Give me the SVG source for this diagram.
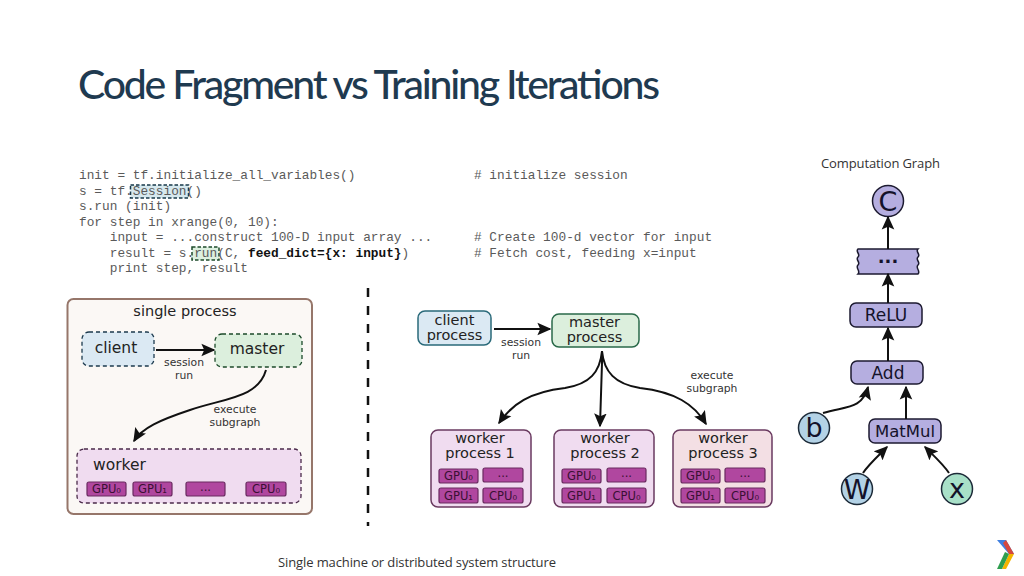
<svg xmlns="http://www.w3.org/2000/svg" width="1024" height="576" viewBox="0 0 1024 576">
<style>
text{font-family:"DejaVu Sans",sans-serif;fill:#222}
.code{font-family:"Liberation Mono",monospace;font-size:12.8px;fill:#5a5a5a;white-space:pre}
.cal{font-family:"Open Sans",sans-serif;font-size:13px;fill:#333}
.m{text-anchor:middle}
.lg{font-size:15.5px}
.sm{font-size:10.800px;fill:#333}
.chip{fill:#b0479f;stroke:#6a2a60;stroke-width:1.2}
.chipt{font-size:11.500px;fill:#3a1034;text-anchor:middle}
.wk{fill:#f0dcf0;stroke:#6a3a60;stroke-width:1.5}
.op{fill:#b5aee0;stroke:#1c1a30;stroke-width:1.5}
.ot{font-size:18px;fill:#14122a;text-anchor:middle}
.big{font-size:27px}
.blue{fill:#b3d2e6;stroke:#1c2a38;stroke-width:1.5}
.cn{fill:none;stroke:#111;stroke-width:2;marker-end:url(#ah)}
</style>
<defs>
<marker id="ah" viewBox="0 0 10 10" refX="9" refY="5" markerWidth="7" markerHeight="7" orient="auto" markerUnits="strokeWidth"><path d="M0 0.500L10 5L0 9.500L2 5Z" fill="#111"/></marker>
</defs>
<rect width="1024" height="576" fill="#fff"/>
<text x="78" y="99" textLength="582" lengthAdjust="spacing" style="font-family:Lato,sans-serif;font-size:41px;font-weight:500;fill:#1f3a50">Code Fragment vs Training Iterations</text>

<g id="code">
<rect x="130.500" y="185" width="58" height="13" fill="#d6e8ee" stroke="#17384a" stroke-width="1.500" stroke-dasharray="3.500 2"/>
<rect x="192" y="247" width="27" height="13" fill="#dcefdf" stroke="#1c4a2a" stroke-width="1.500" stroke-dasharray="3.500 2"/>
<text class="code" x="79" y="179">init = tf.initialize_all_variables()</text>
<text class="code" x="79" y="195">s = tf.Session()</text>
<text class="code" x="79" y="210">s.run (init)</text>
<text class="code" x="79" y="226">for step in xrange(0, 10):</text>
<text class="code" x="79" y="241">    input = ...construct 100-D input array ...</text>
<text class="code" x="79" y="257">    result = s.run(C, <tspan font-weight="bold" fill="#111">feed_dict={x: input}</tspan>)</text>
<text class="code" x="79" y="272">    print step, result</text>
<text class="code" x="474" y="179"># initialize session</text>
<text class="code" x="474" y="241"># Create 100-d vector for input</text>
<text class="code" x="474" y="257"># Fetch cost, feeding x=input</text>
</g>

<g id="single-process">
<rect x="67.500" y="299" width="244.500" height="215" rx="6" fill="#fbf8f5" stroke="#96766a" stroke-width="2"/>
<text class="m" x="185" y="316" font-size="14.500">single process</text>
</g>
<g id="client-a">
<rect x="82" y="332" width="72" height="34" rx="7" fill="#dbe9f3" stroke="#1c3a4e" stroke-width="1.300" stroke-dasharray="4 3"/>
<text class="m lg" x="116" y="353">client</text>
</g>
<g id="master-a">
<rect x="215" y="334" width="87" height="33" rx="7" fill="#dcefdd" stroke="#1c4a2a" stroke-width="1.300" stroke-dasharray="4 3"/>
<text class="m lg" x="257" y="354">master</text>
</g>
<g id="worker-a">
<rect x="77" y="449" width="224" height="54" rx="7" fill="#f0dcf0" stroke="#4a2a4a" stroke-width="1.300" stroke-dasharray="4 3"/>
<text class="lg" x="93" y="470">worker</text>
<rect class="chip" x="87" y="482" width="39" height="14" rx="2"/><text class="chipt" x="106.500" y="493">GPU₀</text>
<rect class="chip" x="133" y="482" width="39" height="14" rx="2"/><text class="chipt" x="152.500" y="493">GPU₁</text>
<rect class="chip" x="186" y="482" width="39" height="14" rx="2"/><text class="chipt" x="205.500" y="491">...</text>
<rect class="chip" x="246" y="482" width="40" height="14" rx="2"/><text class="chipt" x="266" y="493">CPU₀</text>
</g>

<g id="divider"><line x1="368" y1="288" x2="368" y2="526" stroke="#111" stroke-width="2.500" stroke-dasharray="9 9"/></g>

<g id="client-b">
<rect x="418" y="311" width="73" height="34" rx="7" fill="#dbe9f3" stroke="#2a6a7a" stroke-width="1.500"/>
<text class="m" x="454.500" y="325" font-size="14.500">client</text>
<text class="m" x="454.500" y="340" font-size="14.500">process</text>
</g>
<g id="master-b">
<rect x="552" y="314" width="87" height="33" rx="7" fill="#dcefdd" stroke="#2a6a4a" stroke-width="1.500"/>
<text class="m" x="594.500" y="327" font-size="14.500">master</text>
<text class="m" x="594.500" y="342" font-size="14.500">process</text>
</g>
<g id="worker-1">
<rect class="wk" x="431" y="430" width="100" height="77" rx="7"/>
<text class="m" x="480" y="443" font-size="14.500">worker</text><text class="m" x="480" y="458" font-size="14.500">process 1</text>
<rect class="chip" x="439" y="469" width="39" height="14" rx="2"/><text class="chipt" x="458.500" y="480">GPU₀</text>
<rect class="chip" x="483" y="468" width="40" height="14" rx="2"/><text class="chipt" x="503" y="477">...</text>
<rect class="chip" x="439" y="488" width="39" height="15" rx="2"/><text class="chipt" x="458.500" y="500">GPU₁</text>
<rect class="chip" x="483" y="488" width="40" height="15" rx="2"/><text class="chipt" x="503" y="500">CPU₀</text>
</g>
<g id="worker-2">
<rect class="wk" x="554" y="430" width="100" height="77" rx="7"/>
<text class="m" x="605" y="443" font-size="14.500">worker</text><text class="m" x="605" y="458" font-size="14.500">process 2</text>
<rect class="chip" x="562" y="469" width="39" height="14" rx="2"/><text class="chipt" x="581.500" y="480">GPU₀</text>
<rect class="chip" x="607" y="468" width="39" height="14" rx="2"/><text class="chipt" x="626.500" y="477">...</text>
<rect class="chip" x="562" y="488" width="39" height="15" rx="2"/><text class="chipt" x="581.500" y="500">GPU₁</text>
<rect class="chip" x="607" y="488" width="39" height="15" rx="2"/><text class="chipt" x="626.500" y="500">CPU₀</text>
</g>
<g id="worker-3">
<rect class="wk" x="673" y="430" width="99" height="77" rx="7" style="fill:#f3dfe4"/>
<text class="m" x="723" y="443" font-size="14.500">worker</text><text class="m" x="723" y="458" font-size="14.500">process 3</text>
<rect class="chip" x="681" y="469" width="39" height="14" rx="2"/><text class="chipt" x="700.500" y="480">GPU₀</text>
<rect class="chip" x="725" y="468" width="40" height="14" rx="2"/><text class="chipt" x="745" y="477">...</text>
<rect class="chip" x="681" y="488" width="39" height="15" rx="2"/><text class="chipt" x="700.500" y="500">GPU₁</text>
<rect class="chip" x="725" y="488" width="40" height="15" rx="2"/><text class="chipt" x="745" y="500">CPU₀</text>
</g>

<g id="node-C"><circle class="op" cx="888" cy="201" r="15.500"/><text class="ot big" x="888" y="211">C</text></g>
<g id="node-dots"><path class="op" d="M858 249H918C915 252 921 254 918 257C915 260 921 262 918 265C915 268 921 271 918 274H858C861 271 855 268 858 265C861 262 855 260 858 257C861 254 855 252 858 249Z"/><text class="ot" x="888" y="263" style="font-weight:bold">...</text></g>
<g id="node-relu"><rect class="op" x="850" y="303" width="72" height="24" rx="6"/><text class="ot" x="886" y="321" style="font-size:17px">ReLU</text></g>
<g id="node-add"><rect class="op" x="851" y="361" width="72" height="23" rx="6"/><text class="ot" x="888" y="379" style="font-size:17px">Add</text></g>
<g id="node-matmul"><rect class="op" x="869" y="419" width="72" height="24" rx="6"/><text class="ot" x="905" y="437" style="font-size:16.500px">MatMul</text></g>
<g id="node-b"><circle class="blue" cx="814" cy="428" r="15.500"/><text class="ot big" x="814" y="437">b</text></g>
<g id="node-W"><circle class="blue" cx="857" cy="489" r="15.500"/><text class="ot big" x="857" y="499">W</text></g>
<g id="node-x"><circle cx="957" cy="489" r="15.500" fill="#a8e0c8" stroke="#1c2a38" stroke-width="1.500"/><text class="ot big" x="957" y="498">x</text></g>

<g id="connectors">
<path class="cn" d="M156 350H214"/>
<path class="cn" d="M266 370C258 398 225 398 190 410C160 420 142 428 134 441"/>
<path class="cn" d="M494 329H550"/>
<path class="cn" d="M602 351C600 372 590 384 565 388C530 392 512 404 499 423"/>
<path class="cn" d="M602 351V363L600 426"/>
<path class="cn" d="M602 351C604 372 615 384 640 388C675 392 694 404 706 424"/>
<path class="cn" d="M888 249V217"/>
<path class="cn" d="M888 303V274"/>
<path class="cn" d="M888 361V328"/>
<path class="cn" d="M823 413C845 406 862 410 868 387"/>
<path class="cn" d="M906 419V387"/>
<path class="cn" d="M863 473C868 465 878 456 887 447"/>
<path class="cn" d="M949 473C943 464 934 456 925 447"/>
</g>

<g id="labels">
<text class="m sm" x="184" y="366">session</text><text class="m sm" x="184" y="379">run</text>
<text class="m sm" x="235" y="413">execute</text><text class="m sm" x="235" y="426">subgraph</text>
<text class="m sm" x="521" y="346">session</text><text class="m sm" x="521" y="359">run</text>
<text class="m sm" x="712" y="379">execute</text><text class="m sm" x="712" y="392">subgraph</text>
<text class="cal" x="821" y="168" textLength="119">Computation Graph</text>
<text class="cal" x="278" y="567" textLength="278">Single machine or distributed system structure</text>
</g>

<g id="logo">
<polygon points="997,540 1006,540 1014,554 1009,554" fill="#3f7fe0"/>
<polygon points="1006,540 1014,554 1009,554 1003,543" fill="#d6483e"/>
<polygon points="1009,554 1014,554 1006,569 1002,569" fill="#f4b400"/>
<polygon points="1005,552 1009,554 1002,569 997,569" fill="#2e9e4f"/>
</g>
</svg>
